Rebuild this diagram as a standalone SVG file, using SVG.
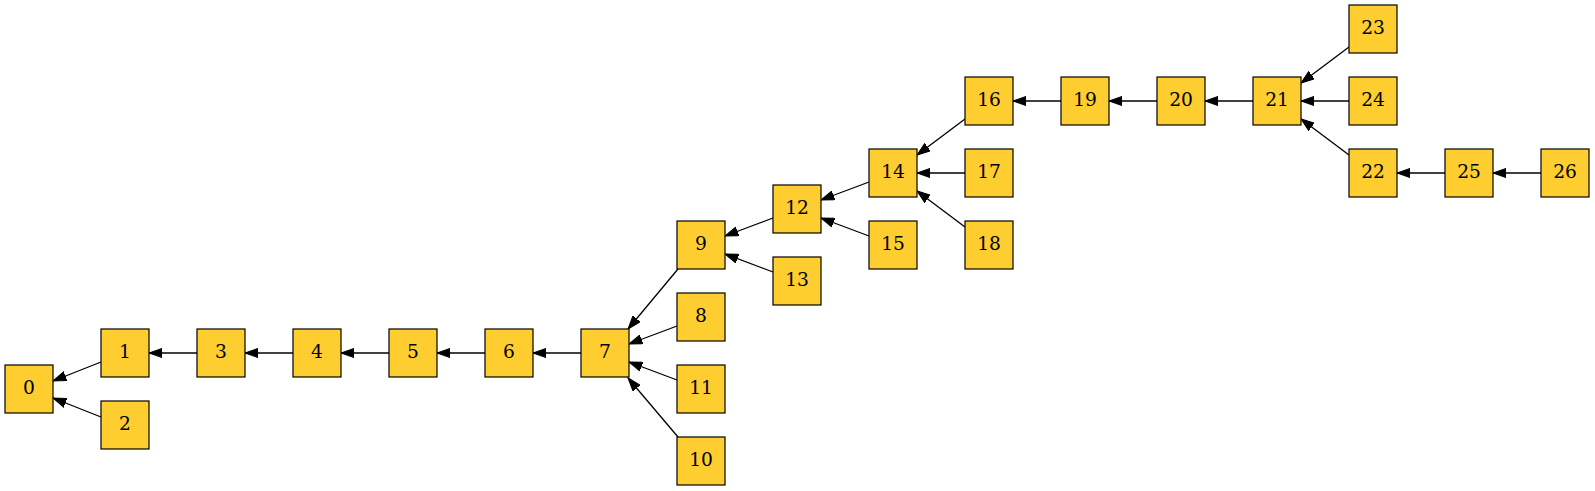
<svg xmlns="http://www.w3.org/2000/svg" width="1595" height="491" viewBox="0 0 1595 491">
<style>
.n rect{fill:#fecd30;stroke:#000;stroke-width:1.2}
.n text{font-family:"DejaVu Serif","Liberation Serif",serif;font-size:18.67px;text-anchor:middle;fill:#000}
.e line{stroke:#000;stroke-width:1.3;marker-end:url(#ah)}
</style>
<defs>
<marker id="ah" markerUnits="userSpaceOnUse" markerWidth="14" markerHeight="10" viewBox="0 -5 14 10" refX="13.3" refY="0" orient="auto">
<path d="M0,-4.67 L13.3,0 L0,4.67 z" fill="#000" stroke="#000" stroke-width="1"/>
</marker>
</defs>
<rect width="1595" height="491" fill="#fff"/>
<g id="edges" class="e">
<line x1="101" y1="362" x2="53" y2="381"/>
<line x1="101" y1="417" x2="53" y2="398"/>
<line x1="197" y1="353" x2="149" y2="353"/>
<line x1="293" y1="353" x2="245" y2="353"/>
<line x1="389" y1="353" x2="341" y2="353"/>
<line x1="485" y1="353" x2="437" y2="353"/>
<line x1="581" y1="353" x2="533" y2="353"/>
<line x1="678" y1="269" x2="628" y2="329"/>
<line x1="677" y1="326" x2="629" y2="344"/>
<line x1="677" y1="380" x2="629" y2="362"/>
<line x1="678" y1="437" x2="628" y2="378"/>
<line x1="773" y1="218" x2="725" y2="236"/>
<line x1="773" y1="272" x2="725" y2="254"/>
<line x1="869" y1="182" x2="821" y2="200"/>
<line x1="869" y1="236" x2="821" y2="218"/>
<line x1="965" y1="119" x2="917" y2="155"/>
<line x1="965" y1="173" x2="917" y2="173"/>
<line x1="965" y1="227" x2="917" y2="191"/>
<line x1="1061" y1="101" x2="1013" y2="101"/>
<line x1="1157" y1="101" x2="1109" y2="101"/>
<line x1="1253" y1="101" x2="1205" y2="101"/>
<line x1="1349" y1="47" x2="1301" y2="83"/>
<line x1="1349" y1="101" x2="1301" y2="101"/>
<line x1="1349" y1="155" x2="1301" y2="119"/>
<line x1="1445" y1="173" x2="1397" y2="173"/>
<line x1="1541" y1="173" x2="1493" y2="173"/>
</g>
<g id="n0" class="n"><rect x="5" y="365" width="48" height="48"/><text x="29" y="394">0</text></g>
<g id="n1" class="n"><rect x="101" y="329" width="48" height="48"/><text x="125" y="358">1</text></g>
<g id="n2" class="n"><rect x="101" y="401" width="48" height="48"/><text x="125" y="430">2</text></g>
<g id="n3" class="n"><rect x="197" y="329" width="48" height="48"/><text x="221" y="358">3</text></g>
<g id="n4" class="n"><rect x="293" y="329" width="48" height="48"/><text x="317" y="358">4</text></g>
<g id="n5" class="n"><rect x="389" y="329" width="48" height="48"/><text x="413" y="358">5</text></g>
<g id="n6" class="n"><rect x="485" y="329" width="48" height="48"/><text x="509" y="358">6</text></g>
<g id="n7" class="n"><rect x="581" y="329" width="48" height="48"/><text x="605" y="358">7</text></g>
<g id="n8" class="n"><rect x="677" y="293" width="48" height="48"/><text x="701" y="322">8</text></g>
<g id="n9" class="n"><rect x="677" y="221" width="48" height="48"/><text x="701" y="250">9</text></g>
<g id="n10" class="n"><rect x="677" y="437" width="48" height="48"/><text x="701" y="466">10</text></g>
<g id="n11" class="n"><rect x="677" y="365" width="48" height="48"/><text x="701" y="394">11</text></g>
<g id="n12" class="n"><rect x="773" y="185" width="48" height="48"/><text x="797" y="214">12</text></g>
<g id="n13" class="n"><rect x="773" y="257" width="48" height="48"/><text x="797" y="286">13</text></g>
<g id="n14" class="n"><rect x="869" y="149" width="48" height="48"/><text x="893" y="178">14</text></g>
<g id="n15" class="n"><rect x="869" y="221" width="48" height="48"/><text x="893" y="250">15</text></g>
<g id="n16" class="n"><rect x="965" y="77" width="48" height="48"/><text x="989" y="106">16</text></g>
<g id="n17" class="n"><rect x="965" y="149" width="48" height="48"/><text x="989" y="178">17</text></g>
<g id="n18" class="n"><rect x="965" y="221" width="48" height="48"/><text x="989" y="250">18</text></g>
<g id="n19" class="n"><rect x="1061" y="77" width="48" height="48"/><text x="1085" y="106">19</text></g>
<g id="n20" class="n"><rect x="1157" y="77" width="48" height="48"/><text x="1181" y="106">20</text></g>
<g id="n21" class="n"><rect x="1253" y="77" width="48" height="48"/><text x="1277" y="106">21</text></g>
<g id="n22" class="n"><rect x="1349" y="149" width="48" height="48"/><text x="1373" y="178">22</text></g>
<g id="n23" class="n"><rect x="1349" y="5" width="48" height="48"/><text x="1373" y="34">23</text></g>
<g id="n24" class="n"><rect x="1349" y="77" width="48" height="48"/><text x="1373" y="106">24</text></g>
<g id="n25" class="n"><rect x="1445" y="149" width="48" height="48"/><text x="1469" y="178">25</text></g>
<g id="n26" class="n"><rect x="1541" y="149" width="48" height="48"/><text x="1565" y="178">26</text></g>
</svg>
